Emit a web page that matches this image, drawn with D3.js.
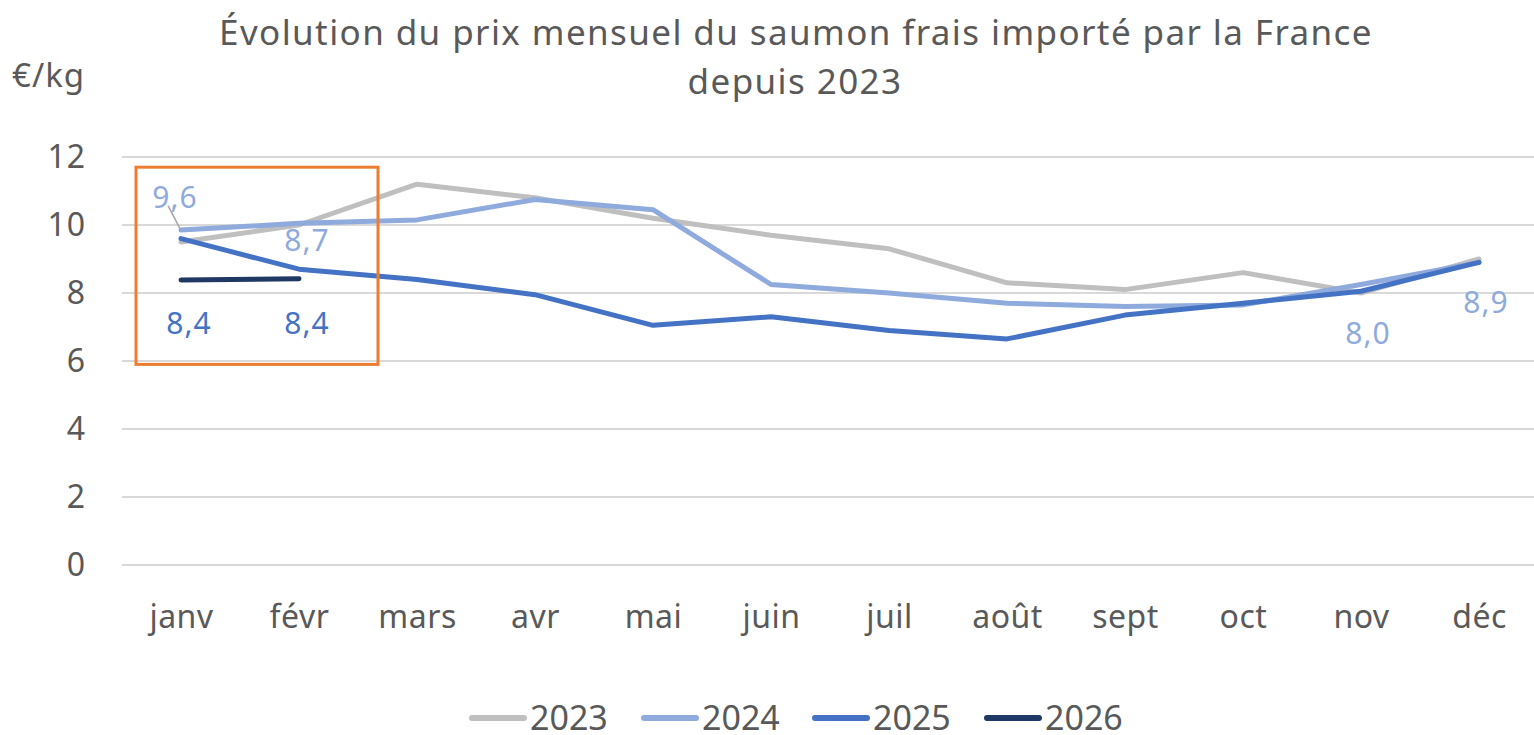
<!DOCTYPE html>
<html>
<head>
<meta charset="utf-8">
<script src="https://cdn.jsdelivr.net/npm/d3@7"></script>
<style>
  body { margin: 0; background: #fff; }
  svg text { font-family: "Noto Sans", Lato, sans-serif; fill: #595959; }
</style>
</head>
<body>
<svg id="chart" width="1534" height="735"></svg>
<script>
// months on the x axis
var months = ["janv", "févr", "mars", "avr", "mai", "juin", "juil", "août", "sept", "oct", "nov", "déc"];
var yTicks = [0, 2, 4, 6, 8, 10, 12];

// monthly price, €/kg
var prix2023 = [9.5, 10.0, 11.2, 10.8, 10.2, 9.7, 9.3, 8.3, 8.1, 8.6, 8.0, 9.0];
var prix2024 = [9.85, 10.05, 10.15, 10.75, 10.45, 8.25, 8.0, 7.7, 7.6, 7.65, 8.25, 8.9];
var prix2025 = [9.6, 8.7, 8.4, 7.95, 7.05, 7.3, 6.9, 6.65, 7.35, 7.7, 8.05, 8.9];
var prix2026 = [8.38, 8.42];

var years = ["2023", "2024", "2025", "2026"];
var colors = ["#BFBFBF", "#8FAADC", "#4472C4", "#203864"];

// data labels shown on the chart
var labelText = ["9,6", "8,7", "8,4", "8,4", "8,0", "8,9"];
var labelMonth = ["janv", "févr", "janv", "févr", "nov", "déc"];

var font = "'Noto Sans', Lato, sans-serif";
var svg = d3.select("#chart");

var x = d3.scalePoint().domain(months).range([122, 1538]).padding(0.5);
var y = d3.scaleLinear().domain([0, 12]).range([565, 157]);

// gridlines
svg.append("g").selectAll("line").data(yTicks).enter().append("line")
  .attr("x1", 122).attr("x2", 1534)
  .attr("y1", function(d) { return y(d); })
  .attr("y2", function(d) { return y(d); })
  .attr("stroke", "#D9D9D9").attr("stroke-width", 2);

// y axis labels
var yAxis = svg.append("g").attr("transform", "translate(86,0)")
  .call(d3.axisLeft(y).tickValues(yTicks).tickSize(0).tickPadding(0));
yAxis.select(".domain").remove();
yAxis.selectAll("text").attr("font-size", 32).attr("fill", "#595959")
  .style("font-family", font).style("letter-spacing", "1px");

// x axis labels
var xAxis = svg.append("g").attr("transform", "translate(0,605)")
  .call(d3.axisBottom(x).tickSize(0).tickPadding(0));
xAxis.select(".domain").remove();
xAxis.selectAll("text").attr("font-size", 32).attr("fill", "#595959")
  .style("font-family", font).style("letter-spacing", "0.5px");

// lines
var series = [prix2023, prix2024, prix2025, prix2026];
var line = d3.line()
  .x(function(d, i) { return x(months[i]); })
  .y(function(d) { return y(d); });

svg.append("g").selectAll("path").data(series).enter().append("path")
  .attr("d", line)
  .attr("fill", "none")
  .attr("stroke", function(d, i) { return colors[i]; })
  .attr("stroke-width", 5)
  .attr("stroke-linecap", "round")
  .attr("stroke-linejoin", "round");

// orange highlight box
svg.append("rect")
  .attr("x", x("janv") - 45).attr("y", y(11.7))
  .attr("width", x("févr") - x("janv") + 124)
  .attr("height", y(5.9) - y(11.7))
  .attr("fill", "none").attr("stroke", "#ED7D31").attr("stroke-width", 3);

// leader line for 9,6
svg.append("line")
  .attr("x1", x("janv") - 13).attr("y1", y(9.6) - 33)
  .attr("x2", x("janv") - 1).attr("y2", y(9.6) - 10)
  .attr("stroke", "#A6A6A6").attr("stroke-width", 1.5);

// data labels
var labelPos = [
  { dx: -6, yv: 10.5, color: "#8FAADC" },
  { dx: 8, yv: 9.25, color: "#8FAADC" },
  { dx: 8, yv: 6.8, color: "#4472C4" },
  { dx: 8, yv: 6.8, color: "#4472C4" },
  { dx: 7, yv: 6.5, color: "#8FAADC" },
  { dx: 7, yv: 7.4, color: "#8FAADC" }
];
svg.append("g").selectAll("text").data(labelText).enter().append("text")
  .attr("x", function(d, i) { return x(labelMonth[i]) + labelPos[i].dx; })
  .attr("y", function(d, i) { return y(labelPos[i].yv); })
  .attr("text-anchor", "middle")
  .attr("font-size", 30)
  .style("letter-spacing", "1px")
  .style("fill", function(d, i) { return labelPos[i].color; })
  .text(function(d) { return d; });

// title
svg.append("text").attr("x", 796).attr("y", 45).attr("text-anchor", "middle")
  .attr("font-size", 35).style("letter-spacing", "1.4px")
  .text("Évolution du prix mensuel du saumon frais importé par la France");
svg.append("text").attr("x", 795).attr("y", 94).attr("text-anchor", "middle")
  .attr("font-size", 35).style("letter-spacing", "1.4px")
  .text("depuis 2023");
svg.append("text").attr("x", 12).attr("y", 87)
  .attr("font-size", 33).style("letter-spacing", "1px").text("€/kg");

// legend
var legendX = [470, 642, 813, 985];
var leg = svg.append("g").selectAll("g").data(years).enter().append("g")
  .attr("transform", function(d, i) { return "translate(" + legendX[i] + ",718)"; });
leg.append("line").attr("x1", 2).attr("x2", 54)
  .attr("stroke", function(d, i) { return colors[i]; })
  .attr("stroke-width", 6).attr("stroke-linecap", "round");
leg.append("text").attr("x", 60).attr("y", 12).attr("font-size", 34)
  .text(function(d) { return d; });
</script>
</body>
</html>
